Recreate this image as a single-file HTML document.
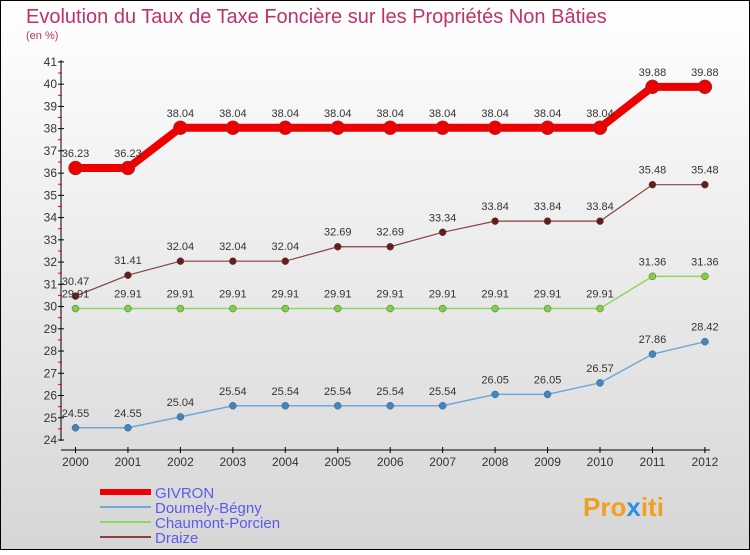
<!DOCTYPE html>
<html><head><meta charset="utf-8"><style>
body{margin:0;}
#c{width:750px;height:550px;position:relative;font-family:"Liberation Sans",sans-serif;}
</style></head><body>
<div id="c">
<svg id="s" width="750" height="550" xmlns="http://www.w3.org/2000/svg">
<defs><linearGradient id="bg" x1="0" y1="0" x2="0" y2="1"><stop offset="0" stop-color="#ffffff"/><stop offset="1" stop-color="#d6d6d6"/></linearGradient></defs>
<rect x="0.5" y="0.5" width="749" height="549" fill="url(#bg)" stroke="#000"/>
<text x="26" y="23" font-size="20" fill="#c0306a">Evolution du Taux de Taxe Foncière sur les Propriétés Non Bâties</text>
<text x="26" y="39" font-size="11" fill="#c0306a">(en %)</text>
<g id="axes"></g><g id="series"></g><g id="legend"></g>
<text x="583" y="516" font-size="26" font-weight="bold" fill="#f0a020">Pro<tspan fill="#3090e0">x</tspan>iti</text>
</svg></div>
<script>
const years=[2000,2001,2002,2003,2004,2005,2006,2007,2008,2009,2010,2011,2012];
const givron=[36.23,36.23,38.04,38.04,38.04,38.04,38.04,38.04,38.04,38.04,38.04,39.88,39.88];
const doumely=[24.55,24.55,25.04,25.54,25.54,25.54,25.54,25.54,26.05,26.05,26.57,27.86,28.42];
const chaumont=[29.91,29.91,29.91,29.91,29.91,29.91,29.91,29.91,29.91,29.91,29.91,31.36,31.36];
const draize=[30.47,31.41,32.04,32.04,32.04,32.69,32.69,33.34,33.84,33.84,33.84,35.48,35.48];
const yTicks=[24,25,26,27,28,29,30,31,32,33,34,35,36,37,38,39,40,41];
const NS="http://www.w3.org/2000/svg";
const X=i=>75.5+i*52.45, Y=v=>440-(v-24)*22.24;
function mk(t,a,p){const e=document.createElementNS(NS,t);for(const k in a)e.setAttribute(k,a[k]);p.appendChild(e);return e;}
const ax=document.getElementById('axes');
let l=mk('line',{x1:61,y1:60,x2:61,y2:441,stroke:'#000'},ax);


l=mk('line',{x1:61,y1:450,x2:710,y2:450,stroke:'#000'},ax);


yTicks.forEach(v=>{
 mk('line',{x1:58,y1:Y(v),x2:64,y2:Y(v),stroke:'#000'},ax);
 if(v<41) mk('line',{x1:58,y1:Y(v+0.5),x2:62,y2:Y(v+0.5),stroke:'#e00'},ax);
 const t=mk('text',{x:57,y:Y(v)+4,'font-size':12,'text-anchor':'end',fill:'#333'},ax);t.textContent=v;
 
 
});
years.forEach((y,i)=>{
 mk('line',{x1:X(i),y1:447,x2:X(i),y2:453,stroke:'#000'},ax);
 const t=mk('text',{x:X(i),y:466,'font-size':12,'text-anchor':'middle',fill:'#333'},ax);t.textContent=y;
 
 
});
const sg=document.getElementById('series');
function draw(vals,color,w,r,name,dot){
 const g=mk('g',{},sg);
 
 
 mk('polyline',{points:vals.map((v,i)=>X(i)+','+Y(v)).join(' '),fill:'none',stroke:color,'stroke-width':w},g);
 vals.forEach((v,i)=>{
  const c=mk('circle',{cx:X(i),cy:Y(v),r:r,fill:dot,stroke:'#555','stroke-width':0.5},g);
  
  
  const t=mk('text',{x:X(i),y:Y(v)-11,'font-size':11,'text-anchor':'middle',fill:'#333'},g);t.textContent=v.toFixed(2);
 });
}
draw(draize,'#8b4040',1.2,3.5,'draize','#6a1a1a');
draw(chaumont,'#8cd860',1.5,3.5,'chaumont-porcien','#80d040');
draw(doumely,'#70a8d8',1.5,3.5,'doumely-begny','#3a88c8');
draw(givron,'#ee0000',8,7,'givron','#ee0000');
const lg=document.getElementById('legend');
[['GIVRON','#ee0000',6],['Doumely-Bégny','#70a8d8',2],['Chaumont-Porcien','#8cd860',2],['Draize','#8b4040',2]].forEach((d,i)=>{
 const y=492+i*15;
 const g=mk('g',{},lg);
 
 
 mk('line',{x1:100,y1:y,x2:151,y2:y,stroke:d[1],'stroke-width':d[2]},g);
 const t=mk('text',{x:155,y:y+6,'font-size':15,fill:'#5a5af0'},g);t.textContent=d[0];
});
</script>
</body></html>
